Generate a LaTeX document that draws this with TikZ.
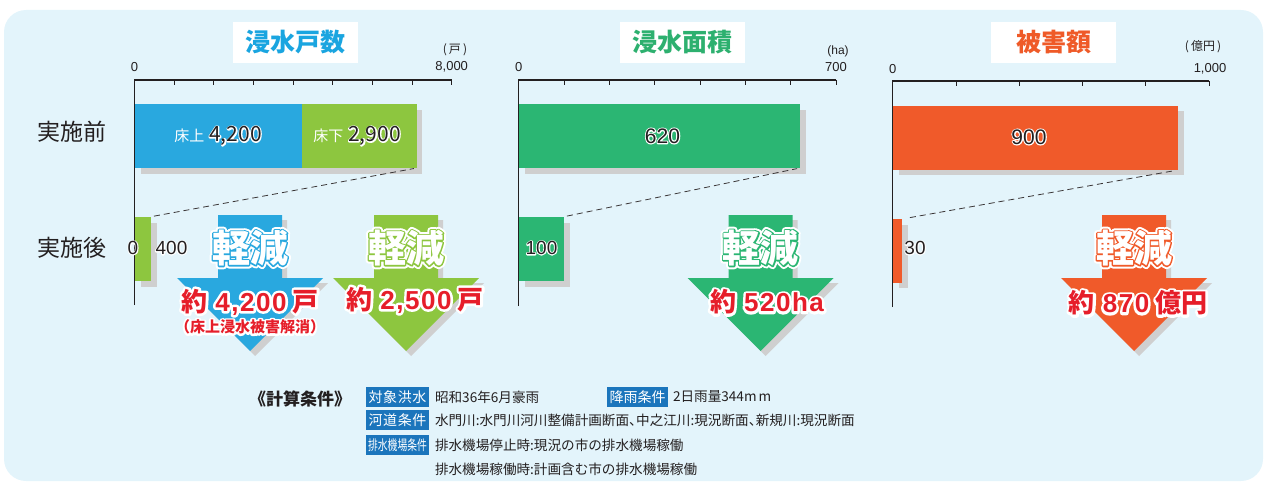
\documentclass[tikz,border=0pt]{standalone}
\usepackage{fontspec}
\setmainfont{Liberation Sans}
\newfontfamily\cjk{Noto Sans CJK JP}
\newfontfamily\digsp{Liberation Sans}[LetterSpace=6]
\usetikzlibrary{calc}
\definecolor{bgc}{HTML}{E3F4FB}
\definecolor{axc}{HTML}{231F20}
\definecolor{shc}{HTML}{CFCFCF}
\definecolor{cblue}{HTML}{29A8DF}
\definecolor{lgreen}{HTML}{8DC63F}
\definecolor{dgreen}{HTML}{2BB673}
\definecolor{corange}{HTML}{F05A2A}
\definecolor{redt}{HTML}{E61E2A}
\definecolor{lblue}{HTML}{1B75BC}
\definecolor{tcyan}{HTML}{1AA5E0}
\definecolor{tgreen}{HTML}{2DB06F}
\definecolor{torange}{HTML}{EF5A28}
\newcommand\fsz[1]{\fontsize{#1}{#1}\selectfont}
% stroked copy of a text (text render mode 1), used as halo
\newcommand\strk[3]{\special{pdf:literal direct 1 Tr #1 w 1 j}\textcolor{#2}{#3}\special{pdf:literal direct 0 Tr}}
% #1 halo width, #2 halo colour, #3 text colour, #4 text
\newcommand\haloed[4]{\leavevmode\rlap{\strk{#1}{#2}{#4}}\textcolor{#3}{#4}}
% double halo: outer white, inner coloured
\newcommand\dhalo[2]{\leavevmode\rlap{\strk{6.5}{white}{#2}}\rlap{\strk{2.6}{#1}{#2}}\textcolor{white}{#2}}
\newcommand\nc{\makebox[7pt][l]{、}}
\newcommand\dnarrow[2]{%
  \fill[shc] (#1-32+5,215+5) -- (#1+32+5,215+5) -- (#1+32+5,278+5) -- (#1+73+5,278+5) -- (#1+5,351+5) -- (#1-73+5,278+5) -- (#1-32+5,278+5) -- cycle;
  \fill[#2] (#1-32,215) -- (#1+32,215) -- (#1+32,278) -- (#1+73,278) -- (#1,351) -- (#1-73,278) -- (#1-32,278) -- cycle;}
\tikzset{
  every node/.style={inner sep=0pt, outer sep=0pt},
  barbox/.style={minimum height=64pt, anchor=north west},
  ax/.style={line width=1.3pt, draw=axc},
  tk/.style={line width=1pt, draw=axc},
  dashl/.style={dash pattern=on 6pt off 4pt, line width=0.8pt, draw=axc!90},
  titlebox/.style={fill=white, minimum width=125pt, minimum height=41pt},
  rowlab/.style={font=\fsz{23}\cjk, text=axc},
  ticklab/.style={font=\fsz{13}, text=axc},
  unitlab/.style={font=\fsz{12}\cjk, text=axc},
  condbox/.style={fill=lblue, minimum width=63pt, minimum height=20pt, text=white, font=\fsz{14}\cjk},
  condtxt/.style={anchor=west, font=\fsz{13.6}\cjk, text=axc},
}
\begin{document}
\begin{tikzpicture}[x=1pt,y=-1pt]
\useasboundingbox (0,0) rectangle (1266,484);
\fill[bgc, rounded corners=22pt] (4,10) rectangle (1263,481);

% titles
\node[titlebox] (t1) at (295.5,42.5) {\fsz{25}\cjk\bfseries\color{tcyan}浸水戸数};
\node[titlebox] (t2) at (682.5,42.5) {\fsz{25}\cjk\bfseries\color{tgreen}浸水面積};
\node[titlebox] (t3) at (1053.5,42.5) {\fsz{25}\cjk\bfseries\color{torange}被害額};

% row labels
\node[rowlab] (r1) at (71.5,132) {実施前};
\node[rowlab] (r2) at (71.5,248) {実施後};

% ---------- chart 1
\fill[shc] (140.5,110) rectangle (422,173.5);
\node[barbox, fill=cblue, minimum width=166.8pt] (a1) at (135,104) {};
\node[barbox, fill=lgreen, minimum width=115pt] (a2) at (301.8,104) {};
\fill[shc] (140.5,222.5) rectangle (157,286.5);
\node[barbox, fill=lgreen, minimum width=16pt] (a3) at (135,216.7) {};
\draw[ax] (134.5,305) -- (134.5,80) -- (451.7,80);
\foreach \i in {1,...,8} \draw[tk] ({134.5+39.65*\i},80) -- ++(0,5.5);
\node[ticklab] (x10) at (134.5,67) {0};
\node[ticklab] (x11) at (451.7,67) {8,000};
\node[unitlab] (u1) at (455,50) {(\,戸\,)};
\node (v1) at (218,136) {\fsz{15}\cjk\color{white}床上\hspace{5pt}\fsz{21}\haloed{2.2}{white}{axc}{4,200}};
\node (v2) at (357,136) {\fsz{15}\cjk\color{white}床下\hspace{5pt}\fsz{21}\haloed{2.2}{white}{axc}{2,900}};
\node[font=\fsz{19}] (v3) at (133,248) {\haloed{2}{white}{axc}{0}};
\node[font=\fsz{19}] (v4) at (171.5,248) {\haloed{2}{white}{axc}{400}};
\draw[dashl, shorten <=3pt, shorten >=3pt] (a3.north east) -- (a2.south east);

% ---------- chart 2
\fill[shc] (524.5,110) rectangle (805.5,173.5);
\node[barbox, fill=dgreen, minimum width=281.3pt] (c1) at (518.7,104) {};
\fill[shc] (524.5,222.5) rectangle (569.5,286.5);
\node[barbox, fill=dgreen, minimum width=45.3pt] (c2) at (518.7,216.7) {};
\draw[ax] (518.7,306) -- (518.7,80) -- (836,80);
\foreach \i in {1,...,7} \draw[tk] ({518.7+45.33*\i},80) -- ++(0,5.5);
\node[ticklab] (x20) at (518.7,67) {0};
\node[ticklab] (x21) at (836,67) {700};
\node[font=\fsz{12}, text=axc] (u2) at (838,51) {(ha)};
\node[font=\fsz{21}] (v5) at (662.5,136) {\haloed{2.2}{white}{axc}{620}};
\node[font=\fsz{19}] (v6) at (541.5,248) {\haloed{2}{white}{axc}{100}};
\draw[dashl, shorten <=3pt, shorten >=3pt] (c2.north east) -- (c1.south east);

% ---------- chart 3
\fill[shc] (898.5,111.5) rectangle (1184,175);
\node[barbox, fill=corange, minimum width=285.5pt] (d1) at (892.7,106) {};
\fill[shc] (898.5,224.5) rectangle (907.5,288);
\node[barbox, fill=corange, minimum width=9.3pt] (d2) at (892.7,219) {};
\draw[ax] (892.7,307) -- (892.7,81) -- (1209.3,81);
\foreach \i in {1,...,5} \draw[tk] ({892.7+63.32*\i},81) -- ++(0,5.5);
\node[ticklab] (x30) at (892.7,69) {0};
\node[ticklab] (x31) at (1210,69) {1,000};
\node[unitlab] (u3) at (1203,47) {(\,億円\,)};
\node[font=\fsz{21}] (v7) at (1029,137) {\haloed{2.2}{white}{axc}{900}};
\node[font=\fsz{19}] (v8) at (915,248) {\haloed{2}{white}{axc}{30}};
\draw[dashl, shorten <=8pt, shorten >=3pt] (d2.north east) -- (d1.south east);

% ---------- arrows
\dnarrow{250}{cblue}
\dnarrow{406}{lgreen}
\dnarrow{760.5}{dgreen}
\dnarrow{1134}{corange}

\foreach \n/\x/\c in {k1/250/cblue, k2/406/lgreen, k3/760.5/dgreen, k4/1134/corange}{
  \node (\n) at (\x,248) {\fsz{38}\cjk\bfseries\dhalo{\c}{軽減}};
}

\node (m1) at (250,302) {\fsz{26}\bfseries\haloed{5}{white}{redt}{{\cjk 約}\hspace{8pt}{\digsp\bfseries 4,200}\hspace{6pt}{\cjk 戸}}};
\node (m1b) at (250,327) {\fsz{15}\cjk\bfseries\haloed{4}{white}{redt}{（床上浸水被害解消）}};
\node (m2) at (415,300) {\fsz{26}\bfseries\haloed{5}{white}{redt}{{\cjk 約}\hspace{8pt}{\digsp\bfseries 2,500}\hspace{6pt}{\cjk 戸}}};
\node (m3) at (767,302) {\fsz{26}\bfseries\haloed{5}{white}{redt}{{\cjk 約}\hspace{8pt}{\digsp\bfseries 520ha}}};
\node (m4) at (1138,303) {\fsz{26}\bfseries\haloed{5}{white}{redt}{{\cjk 約}\hspace{8pt}{\digsp\bfseries 870}\hspace{6pt}{\cjk 億円}}};

% ---------- conditions
\node[font=\fsz{17}\cjk\bfseries, text=axc] (cc) at (300,399) {《計算条件》};
\node[condbox] (b1) at (397.5,397) {\makebox[58pt][s]{対\hfill 象\hfill 洪\hfill 水}};
\node[condbox] (b2) at (397.5,420) {\makebox[58pt][s]{河\hfill 道\hfill 条\hfill 件}};
\node[condbox] (b3) at (397.5,445) {\scalebox{0.7}[1]{\fsz{14}排水機場条件}};
\node[condbox, minimum width=61pt] (b4) at (637.5,397) {\makebox[56pt][s]{降\hfill 雨\hfill 条\hfill 件}};
\node[condtxt] (s1) at (435,397) {昭和36年6月豪雨};
\node[condtxt] (s2) at (673,397) {2日雨量344m\hspace{2pt}m};
\node[condtxt] (s3) at (435,420) {水門川:水門川河川整備計画断面\nc 中之江川:現況断面\nc 新規川:現況断面};
\node[condtxt] (s4) at (435,445) {排水機場停止時:現況の市の排水機場稼働};
\node[condtxt] (s5) at (435,469) {排水機場稼働時:計画含む市の排水機場稼働};
\end{tikzpicture}
\end{document}
